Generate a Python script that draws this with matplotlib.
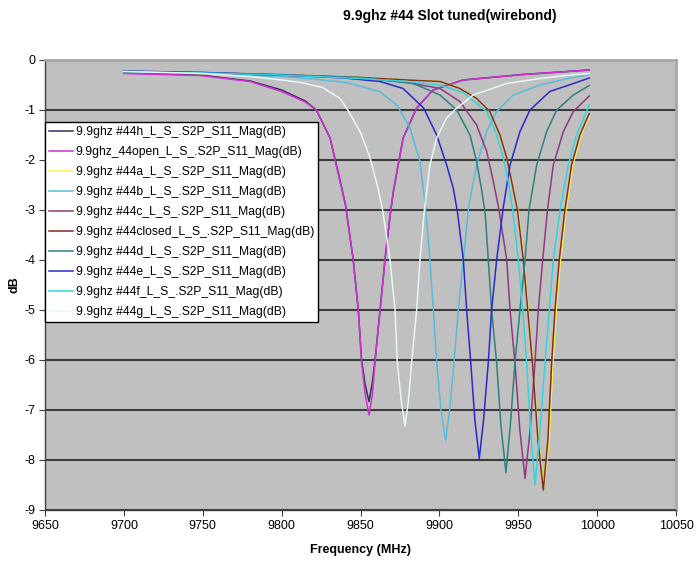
import matplotlib
matplotlib.use("Agg")
import matplotlib.pyplot as plt

plt.rcParams["font.family"] = ["Liberation Sans", "DejaVu Sans"]

labels = [
    "9.9ghz #44h_L_S_.S2P_S11_Mag(dB)",
    "9.9ghz_44open_L_S_.S2P_S11_Mag(dB)",
    "9.9ghz #44a_L_S_.S2P_S11_Mag(dB)",
    "9.9ghz #44b_L_S_.S2P_S11_Mag(dB)",
    "9.9ghz #44c_L_S_.S2P_S11_Mag(dB)",
    "9.9ghz #44closed_L_S_.S2P_S11_Mag(dB)",
    "9.9ghz #44d_L_S_.S2P_S11_Mag(dB)",
    "9.9ghz #44e_L_S_.S2P_S11_Mag(dB)",
    "9.9ghz #44f_L_S_.S2P_S11_Mag(dB)",
    "9.9ghz #44g_L_S_.S2P_S11_Mag(dB)",
]
colors = ["#303062", "#d030d0", "#fff04a", "#58bcdc", "#8e3a80",
          "#80301a", "#2f8080", "#2a2acc", "#33d4dc", "#e6f8f8"]

freq_44h = [9700, 9748, 9780, 9800, 9815, 9822, 9830.7, 9837, 9840.5, 9845.4, 9848.6,
            9850.7, 9853, 9855.4, 9857.5, 9859.2, 9862.4, 9865.5, 9869, 9871, 9877,
            9885.6, 9896, 9915, 9953, 9995]
db_44h = [-0.26, -0.3, -0.42, -0.6, -0.82, -1.0, -1.56, -2.4, -2.9, -4.0, -5.0,
          -6.0, -6.5, -6.83, -6.45, -6.0, -5.0, -4.0, -3.05, -2.6, -1.56,
          -0.96, -0.6, -0.4, -0.29, -0.2]

freq_44open = [9700, 9748, 9780, 9800, 9815, 9822, 9830.7, 9837, 9840.5, 9845.4, 9848.6,
               9850.7, 9853, 9855.4, 9857.5, 9859.2, 9862.4, 9865.5, 9869, 9871, 9877,
               9885.6, 9896, 9915, 9953, 9995]
db_44open = [-0.27, -0.31, -0.43, -0.63, -0.84, -1.0, -1.56, -2.43, -2.9, -4.0, -5.0,
             -6.05, -6.7, -7.1, -6.7, -6.05, -5.0, -4.0, -3.05, -2.6, -1.56,
             -0.96, -0.6, -0.4, -0.29, -0.2]

freq_44a = [9700, 9750, 9800, 9850, 9880, 9900.4, 9913, 9923.6, 9932, 9938.4, 9942.7,
            9945.8, 9949.8, 9953.5, 9956.3, 9959.3, 9962.8, 9966.2, 9969.6, 9972, 9974.1,
            9976.8, 9980.4, 9984.6, 9989.9, 9995]
db_44a = [-0.25, -0.27, -0.3, -0.35, -0.4, -0.43, -0.57, -0.77, -1.03, -1.5, -1.96,
          -2.43, -3.0, -3.99, -5.0, -6.05, -7.6, -8.55, -7.6, -6.05, -5.0,
          -4.0, -3.0, -2.1, -1.5, -1.12]

freq_44b = [9700, 9750, 9800, 9820, 9841, 9862, 9873, 9881.4, 9887.7, 9891, 9894,
            9896.2, 9898.3, 9901, 9904, 9906.5, 9909.3, 9912, 9915.2, 9918.5, 9923.6,
            9930, 9936.3, 9946.9, 9963.8, 9980, 9995]
db_44b = [-0.22, -0.26, -0.33, -0.38, -0.45, -0.63, -0.9, -1.36, -2.03, -2.9, -3.99,
          -5.0, -6.05, -7.0, -7.61, -7.0, -6.05, -5.0, -4.0, -2.95, -2.1,
          -1.43, -1.03, -0.7, -0.5, -0.38, -0.29]

freq_44c = [9700, 9750, 9800, 9850, 9880, 9900.4, 9913, 9923.6, 9930, 9934.2, 9937.8,
            9942.7, 9944.8, 9947.9, 9951, 9954.3, 9957.5, 9960.6, 9962.7, 9965.5, 9968.5,
            9972.2, 9978.6, 9984.9, 9995]
db_44c = [-0.24, -0.26, -0.3, -0.36, -0.45, -0.57, -0.83, -1.3, -1.83, -2.43, -3.0,
          -4.0, -5.0, -6.05, -7.4, -8.37, -7.4, -6.05, -5.0, -4.0, -3.0,
          -2.1, -1.43, -1.03, -0.72]

freq_44closed = [9700, 9750, 9800, 9850, 9880, 9900.4, 9913, 9923.6, 9932, 9938.4, 9942.7,
                 9945.8, 9949.5, 9953.2, 9956, 9959, 9962.5, 9965.9, 9968.8, 9971.2, 9973.3,
                 9976, 9979.6, 9983.8, 9989.1, 9995]
db_44closed = [-0.25, -0.27, -0.3, -0.35, -0.4, -0.43, -0.57, -0.77, -1.03, -1.5, -1.96,
               -2.43, -3.0, -3.99, -5.0, -6.05, -7.6, -8.6, -7.6, -6.05, -5.0,
               -4.0, -3.0, -2.1, -1.5, -1.07]

freq_44d = [9700, 9750, 9800, 9850, 9883.5, 9900.4, 9911, 9919.4, 9923.6, 9926.8, 9929,
            9931, 9933.1, 9936.3, 9939, 9942.2, 9945, 9947.9, 9951.1, 9954.3, 9956.8,
            9961.7, 9968, 9974.4, 9984.9, 9995]
db_44d = [-0.23, -0.25, -0.29, -0.35, -0.47, -0.7, -1.0, -1.5, -2.03, -2.6, -3.05,
          -3.99, -5.0, -6.05, -7.3, -8.25, -7.3, -6.05, -5.0, -4.0, -3.0,
          -2.1, -1.43, -1.0, -0.7, -0.51]

freq_44e = [9700, 9750, 9800, 9840, 9862.4, 9877, 9890, 9898.3, 9904.6, 9908.8, 9911.5,
            9915.2, 9917.3, 9919.9, 9922.5, 9925.3, 9928, 9931, 9933.1, 9936.3, 9940.5,
            9944.8, 9951.1, 9957.4, 9970, 9985, 9995]
db_44e = [-0.22, -0.25, -0.3, -0.36, -0.43, -0.57, -0.96, -1.5, -2.1, -2.56, -3.05,
          -4.0, -5.0, -6.05, -7.2, -7.97, -7.2, -6.05, -5.0, -4.0, -2.95,
          -2.1, -1.43, -1.0, -0.63, -0.47, -0.36]

freq_44f = [9700, 9750, 9800, 9850, 9880, 9900, 9915, 9930, 9936.3, 9940.5, 9943.7,
            9946.5, 9950, 9952.8, 9955.3, 9958, 9960.6, 9963.5, 9967, 9969.7, 9972.2,
            9976.5, 9981.7, 9987, 9995]
db_44f = [-0.23, -0.26, -0.3, -0.37, -0.43, -0.5, -0.65, -1.03, -1.5, -1.96, -2.43,
          -3.0, -3.99, -5.0, -6.05, -7.5, -8.5, -7.5, -6.05, -5.0, -4.0,
          -3.0, -2.1, -1.5, -0.9]

freq_44g = [9700, 9750, 9780, 9800, 9812, 9826, 9837, 9843, 9850, 9856, 9861,
            9864, 9868.7, 9871.9, 9873.3, 9875.8, 9878.2, 9880.4, 9882.4, 9885.6, 9887.7,
            9890.5, 9894, 9898.3, 9904.6, 9911, 9921.5, 9942.7, 9963.8, 9980, 9995]
db_44g = [-0.23, -0.27, -0.33, -0.4, -0.45, -0.55, -0.77, -1.05, -1.45, -1.95, -2.55,
          -3.0, -4.0, -5.0, -6.05, -6.8, -7.32, -6.8, -6.05, -5.0, -4.0,
          -3.0, -2.1, -1.56, -1.16, -0.96, -0.7, -0.47, -0.37, -0.31, -0.27]

freqs = [freq_44h, freq_44open, freq_44a, freq_44b, freq_44c,
         freq_44closed, freq_44d, freq_44e, freq_44f, freq_44g]
dbs = [db_44h, db_44open, db_44a, db_44b, db_44c,
       db_44closed, db_44d, db_44e, db_44f, db_44g]

x_ticks = [9650, 9700, 9750, 9800, 9850, 9900, 9950, 10000, 10050]
y_ticks = [0, -1, -2, -3, -4, -5, -6, -7, -8, -9]

# ── Figure ──────────────────────────────────────────────────────────────────
fig = plt.figure(figsize=(7.0, 5.67), dpi=100)
ax = fig.add_axes([45 / 700, 1 - 510 / 567, 631 / 700, 450 / 567])
ax.set_facecolor("#c0c0c0")

for f, d, c, lab in zip(freqs, dbs, colors, labels):
    ax.plot(f, d, color=c, lw=1.1, label=lab)

ax.set_xlim(9650, 10050)
ax.set_ylim(-9, 0)
ax.set_xticks(x_ticks)
ax.set_yticks(y_ticks)
ax.set_yticklabels([str(v) for v in y_ticks])
ax.tick_params(labelsize=9, length=4, color="#404040", pad=3)

ax.set_axisbelow(True)
ax.yaxis.grid(True, color="#3c3c3c", lw=1.5)
for s in ("left", "bottom"):
    ax.spines[s].set_color("#404040")
    ax.spines[s].set_linewidth(1.0)
for s in ("top", "right"):
    ax.spines[s].set_color("#a8a8a8")
    ax.spines[s].set_linewidth(2.0)

ax.set_xlabel("Frequency (MHz)", fontsize=9, fontweight="bold", labelpad=9)
fig.text(14 / 700, 1 - 285 / 567, "dB", rotation=90, ha="center", va="center",
         fontsize=9, fontweight="bold")
fig.text(450 / 700, 1 - 16 / 567, "9.9ghz #44 Slot tuned(wirebond)",
         ha="center", va="center", fontsize=10, fontweight="bold")

leg = ax.legend(loc="upper left", bbox_to_anchor=(45 / 700, 1 - 122 / 567),
                bbox_transform=fig.transFigure, fontsize=8.7, frameon=True,
                fancybox=False, edgecolor="black", framealpha=1.0,
                borderpad=0.35, labelspacing=0.66, handlelength=2.0,
                handletextpad=0.2, borderaxespad=0)
leg.get_frame().set_linewidth(1.0)

fig.savefig("out.png", dpi=100)
